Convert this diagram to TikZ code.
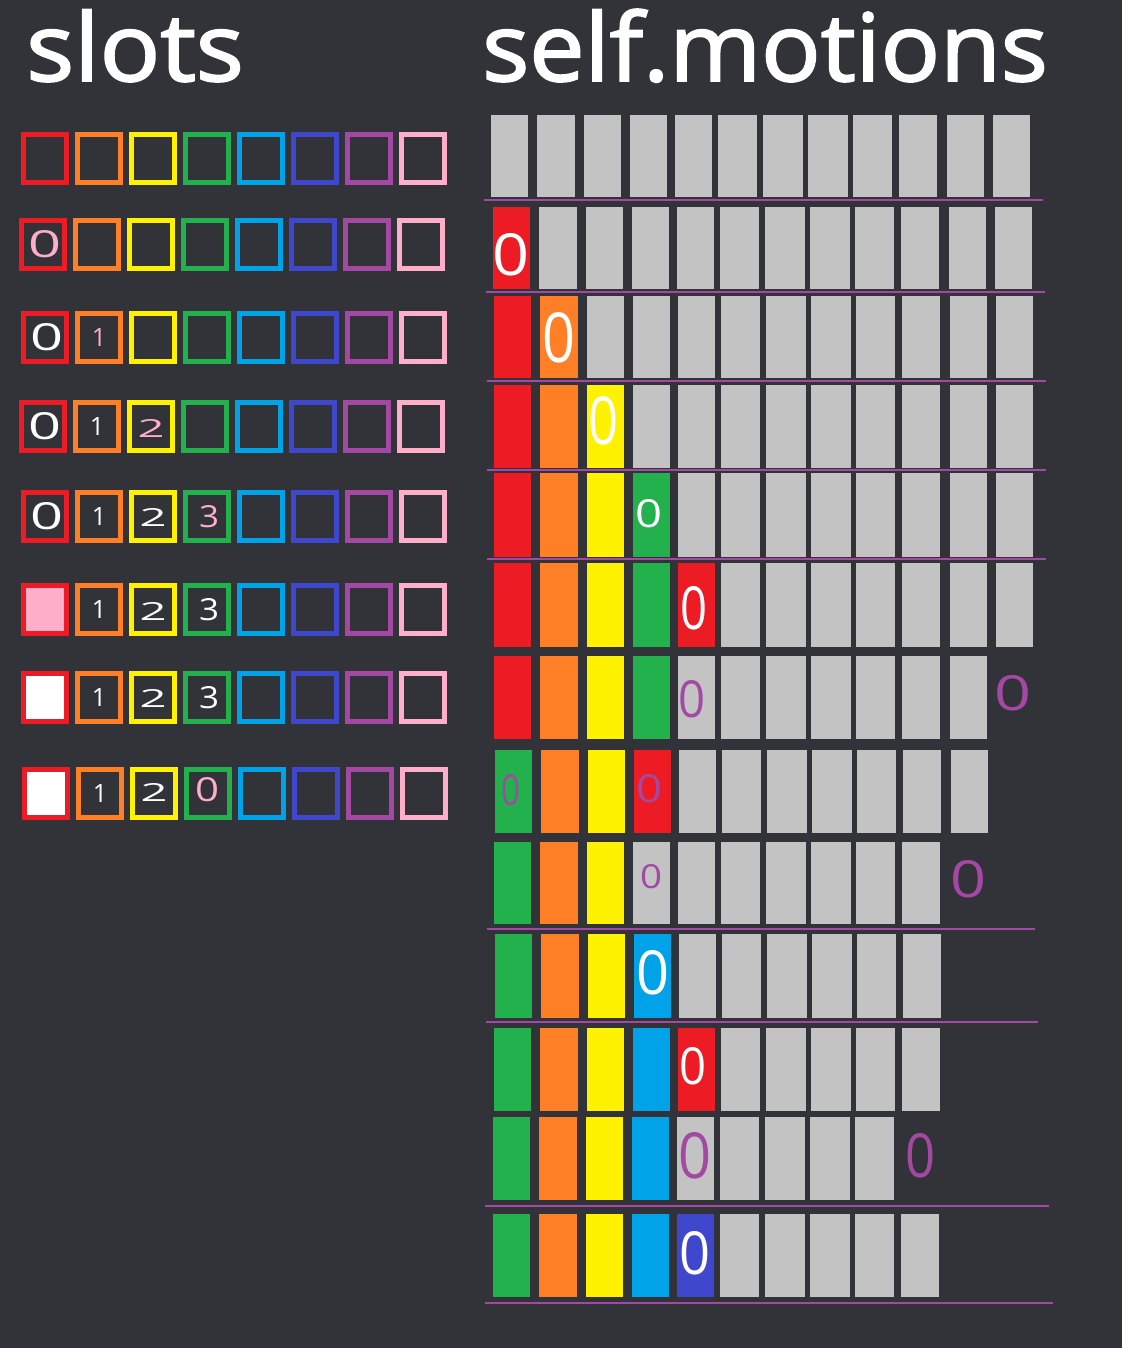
\documentclass[tikz,border=0pt]{standalone}
\usepackage{fontspec}
\setmainfont{Open Sans}
\newfontfamily\titlefont[FakeBold=2]{Open Sans}
\definecolor{bg}{RGB}{50,51,57}
\definecolor{cr}{RGB}{237,28,36}
\definecolor{co}{RGB}{255,127,39}
\definecolor{cy}{RGB}{255,242,0}
\definecolor{cg}{RGB}{34,177,76}
\definecolor{cb}{RGB}{0,162,232}
\definecolor{ci}{RGB}{63,72,204}
\definecolor{cp}{RGB}{163,73,164}
\definecolor{ck}{RGB}{255,174,201}
\definecolor{ce}{RGB}{195,195,195}
% digit node: colour, name, x, y, box width, height, text
\newcommand\dg[7]{\node[inner sep=0pt,text=#1,font=\fontsize{40}{40}\selectfont] (#2) at (#3,#4) {\resizebox{#5pt}{#6pt}{#7}};}
\newcommand\one[4]{\node[inner sep=0pt,text=#1,font=\fontsize{40}{40}\selectfont] (#2) at (#3,#4) {\resizebox{!}{18pt}{1}};}
\newcommand\slotrow[2]{%
  \foreach \c [count=\k from 0] in {cr,co,cy,cg,cb,ci,cp,ck}
    \draw[slotbox,draw=\c] ({#1+54*\k+2.5},{#2+2.5}) rectangle ++(43,48);}
\newcommand\bars[4]{%
  \foreach \c [count=\k from 0] in {#4} {
    \pgfmathsetmacro\xl{{491,537,584,630,675,718,763,808,853,899,947,993}[\k]+#3}
    \pgfmathsetmacro\wd{{37,38,37,37,37,39,40,40,39,38,37,37}[\k]}
    \fill[\c] (\xl,#1) rectangle (\xl+\wd,#2);
  }}
\tikzset{slotbox/.style={line width=5pt},
  sep/.style={draw=cp,line width=2.6pt},
  title/.style={inner sep=0pt,anchor=base west,text=white,font=\titlefont\fontsize{94}{94}\selectfont}}
\begin{document}
\begin{tikzpicture}[x=1pt,y=-1pt]
\useasboundingbox (0,0) rectangle (1122,1348);
\fill[bg] (0,0) rectangle (1122,1348);
% titles
\node[title] (tslots) at (26,81) {\scalebox{1.07}[1]{slots}};
\node[title] (tmot) at (482,81) {\scalebox{1.05}[1]{self.motions}};
% ---------------- slots ----------------
\fill[ck] (21+5,583+5) rectangle ++(38,43);
\fill[white] (21+5,671+5) rectangle ++(38,43);
\fill[white] (22+5,767+5) rectangle ++(38,43);
\slotrow{21}{132}
\slotrow{19}{218}
\slotrow{21}{311}
\slotrow{19}{400}
\slotrow{21}{490}
\slotrow{21}{583}
\slotrow{21}{671}
\slotrow{22}{767}
% slot digits
\dg{ck}{sa0}{45}{244}{33}{27}{0}
\dg{white}{sb0}{47}{337}{33}{27}{0}
\one{ck}{sb1}{99}{337}
\dg{white}{sc0}{45}{426}{33}{27}{0}
\one{white}{sc1}{97}{426}
\dg{ck}{sc2}{151}{428}{27}{18}{2}
\dg{white}{sd0}{47}{516}{33}{27}{0}
\one{white}{sd1}{99}{516}
\dg{white}{sd2}{153}{517}{27}{18}{2}
\dg{ck}{sd3}{209}{517}{20}{22}{3}
\one{white}{se1}{99}{609}
\dg{white}{se2}{153}{611}{27}{18}{2}
\dg{white}{se3}{209}{610}{20}{22}{3}
\one{white}{sf1}{99}{697}
\dg{white}{sf2}{153}{698}{27}{18}{2}
\dg{white}{sf3}{209}{698}{20}{22}{3}
\one{white}{sg1}{100}{793}
\dg{white}{sg2}{154}{792}{27}{18}{2}
\dg{ck}{sg3}{207}{790}{24}{24}{0}
% ---------------- motions ----------------
\bars{115}{197}{0}{ce,ce,ce,ce,ce,ce,ce,ce,ce,ce,ce,ce}
\bars{207}{289}{2}{cr,ce,ce,ce,ce,ce,ce,ce,ce,ce,ce,ce}
\bars{296}{378}{3}{cr,co,ce,ce,ce,ce,ce,ce,ce,ce,ce,ce}
\bars{385}{468}{3}{cr,co,cy,ce,ce,ce,ce,ce,ce,ce,ce,ce}
\bars{473}{557}{3}{cr,co,cy,cg,ce,ce,ce,ce,ce,ce,ce,ce}
\bars{563}{647}{3}{cr,co,cy,cg,cr,ce,ce,ce,ce,ce,ce,ce}
\bars{656}{739}{3}{cr,co,cy,cg,ce,ce,ce,ce,ce,ce,ce}
\bars{750}{833}{4}{cg,co,cy,cr,ce,ce,ce,ce,ce,ce,ce}
\bars{842}{924}{3}{cg,co,cy,ce,ce,ce,ce,ce,ce,ce}
\bars{934}{1018}{4}{cg,co,cy,cb,ce,ce,ce,ce,ce,ce}
\bars{1028}{1111}{3}{cg,co,cy,cb,cr,ce,ce,ce,ce,ce}
\bars{1117}{1200}{2}{cg,co,cy,cb,ce,ce,ce,ce,ce}
\bars{1214}{1297}{2}{cg,co,cy,cb,ci,ce,ce,ce,ce,ce}
% separators
\draw[sep] (484,200) -- (1043,200);
\draw[sep] (486,292) -- (1045,292);
\draw[sep] (487,381) -- (1046,381);
\draw[sep] (487,470) -- (1046,470);
\draw[sep] (487,559) -- (1046,559);
\draw[sep] (487,929) -- (1035,929);
\draw[sep] (486,1022) -- (1038,1022);
\draw[sep] (485,1206) -- (1049,1206);
\draw[sep] (485,1303) -- (1053,1303);
% motion zeros
\dg{white}{m1}{511}{255}{37}{42}{0}
\dg{white}{m2}{559}{338}{33}{50}{0}
\dg{white}{m3}{603}{421}{30}{48}{0}
\dg{white}{m4}{649}{514}{27}{28}{0}
\dg{white}{m5}{694}{608}{27}{43}{0}
\dg{cp}{m6a}{692}{699}{27}{37}{0}
\dg{cp}{m6b}{1013}{693}{37}{35}{0}
\dg{cp}{m7a}{511}{790}{19}{31}{0}
\dg{cp}{m7b}{649}{789}{26}{28}{0}
\dg{cp}{m8a}{651}{877}{22}{24}{0}
\dg{cp}{m8b}{968}{879}{36}{37}{0}
\dg{white}{m9}{653}{973}{33}{44}{0}
\dg{white}{m10}{693}{1066}{27}{37}{0}
\dg{cp}{m11a}{695}{1156}{33}{46}{0}
\dg{cp}{m11b}{920}{1156}{30}{44}{0}
\dg{white}{m12}{695}{1253}{31}{43}{0}
\end{tikzpicture}
\end{document}
